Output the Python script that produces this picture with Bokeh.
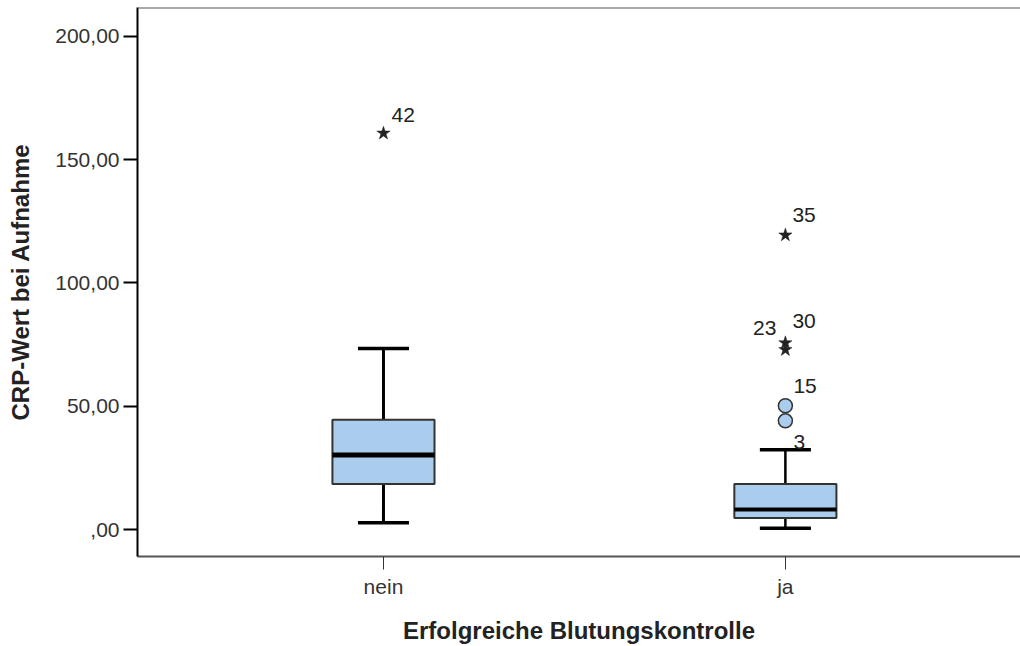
import numpy as np
from bokeh.plotting import figure
from bokeh.models import Range1d, FixedTicker, Span, ColumnDataSource
from bokeh.core.properties import value
from bokeh.embed import file_html
from bokeh.resources import INLINE

# Box plot statistics of CRP at admission, per outcome of bleeding control
groups = ["nein", "ja"]
group_pos = [1, 2]
whisker_low = [2.8, 0.5]
q1 = [18.5, 4.7]
median = [30.2, 8.1]
q3 = [44.5, 18.5]
whisker_high = [73.4, 32.4]

# Extreme outliers (stars) and mild outliers (circles) with case numbers
extreme_group = [1, 2, 2, 2]
extreme_value = [160.7, 119.4, 75.7, 72.9]
extreme_id = ["42", "35", "30", "23"]
mild_group = [2, 2]
mild_value = [50.2, 44.1]
mild_id = ["15", "3"]

y_ticks = [0, 50, 100, 150, 200]
y_tick_labels = [",00", "50,00", "100,00", "150,00", "200,00"]

FONT = "Liberation Sans"
BOX_FILL = "#AACDEE"
BOX_W = 0.254
CAP_W = 0.127

p = figure(width=1020, height=646, output_backend="svg", toolbar_location=None,
           x_range=Range1d(0.388, 2.585), y_range=Range1d(-10.93, 211.7),
           min_border_left=137, min_border_right=0, min_border_top=7,
           min_border_bottom=89)
p.outline_line_color = None
p.grid.visible = False
p.background_fill_color = "white"
p.border_fill_color = "white"

# axes
p.xaxis.ticker = FixedTicker(ticks=group_pos)
p.xaxis.major_label_overrides = {g: n for g, n in zip(group_pos, groups)}
p.yaxis.ticker = FixedTicker(ticks=y_ticks)
p.yaxis.major_label_overrides = {t: l for t, l in zip(y_ticks, y_tick_labels)}
for ax in (p.xaxis, p.yaxis):
    ax.minor_tick_line_color = None
    ax.major_label_text_font = FONT
    ax.major_label_text_font_size = "21px"
    ax.major_label_text_color = "#333333"
    ax.axis_label_text_font = FONT
    ax.axis_label_text_font_size = "24px"
    ax.axis_label_text_font_style = "bold"
    ax.axis_label_text_color = "#222222"
p.yaxis.axis_label = "CRP-Wert bei Aufnahme"
p.xaxis.axis_label = "Erfolgreiche Blutungskontrolle"
p.yaxis.axis_line_color = "black"
p.yaxis.axis_line_width = 2
p.yaxis.major_tick_line_color = "black"
p.yaxis.major_tick_line_width = 2
p.yaxis.major_tick_out = 14
p.yaxis.major_tick_in = 0
p.yaxis.major_label_standoff = 4
p.yaxis.axis_label_standoff = 18
p.xaxis.axis_line_color = "#555555"
p.xaxis.axis_line_width = 2
p.xaxis.major_tick_line_color = "#333333"
p.xaxis.major_tick_line_width = 1
p.xaxis.major_tick_out = 13
p.xaxis.major_tick_in = 0
p.xaxis.major_label_standoff = 5
p.xaxis.axis_label_standoff = 16

# top border of the plot area
p.add_layout(Span(location=p.y_range.end, dimension="width",
                  line_color="#555555", line_width=2))

pos = np.array(group_pos, dtype=float)
stats = ColumnDataSource(dict(
    x=pos, lo=whisker_low, q1=q1, med=median, q3=q3, hi=whisker_high,
    box_l=pos - BOX_W / 2, box_r=pos + BOX_W / 2,
    cap_l=pos - CAP_W / 2, cap_r=pos + CAP_W / 2,
    med_w=[5, 4], stem_w=[3, 2.5],
))

# whisker stems
p.segment(x0="x", x1="x", y0="q3", y1="hi", source=stats,
          line_color="black", line_width="stem_w")
p.segment(x0="x", x1="x", y0="q1", y1="lo", source=stats,
          line_color="black", line_width="stem_w")
# whisker caps
p.segment(x0="cap_l", x1="cap_r", y0="hi", y1="hi", source=stats,
          line_color="black", line_width=3.5)
p.segment(x0="cap_l", x1="cap_r", y0="lo", y1="lo", source=stats,
          line_color="black", line_width=3.5)
# boxes
p.quad(left="box_l", right="box_r", bottom="q1", top="q3", source=stats,
       fill_color=BOX_FILL, line_color="#333333", line_width=2)
# medians
p.segment(x0="box_l", x1="box_r", y0="med", y1="med", source=stats,
          line_color="black", line_width="med_w")

# outliers
ext = ColumnDataSource(dict(x=extreme_group, y=extreme_value, t=extreme_id,
                            dx=[8, 7, 7, -9], dy=[-18, -20, -22, -22],
                            al=["left", "left", "left", "right"]))
mild = ColumnDataSource(dict(x=mild_group, y=mild_value, t=mild_id,
                             dx=[8, 8], dy=[-20, 21],
                             al=["left", "left"]))
p.scatter(x="x", y="y", source=ext, marker="star", size=14,
          fill_color="#222222", line_color="#222222", line_width=0.5)
p.scatter(x="x", y="y", source=mild, marker="circle", size=14,
          fill_color=BOX_FILL, line_color="#333333", line_width=1.5)
for src in (ext, mild):
    p.text(x="x", y="y", text="t", source=src, x_offset="dx", y_offset="dy",
           text_align="al", text_baseline="alphabetic",
           text_font=value(FONT), text_font_size="21px", text_color="#222222")

open("out.html", "w").write(file_html(p, INLINE))
